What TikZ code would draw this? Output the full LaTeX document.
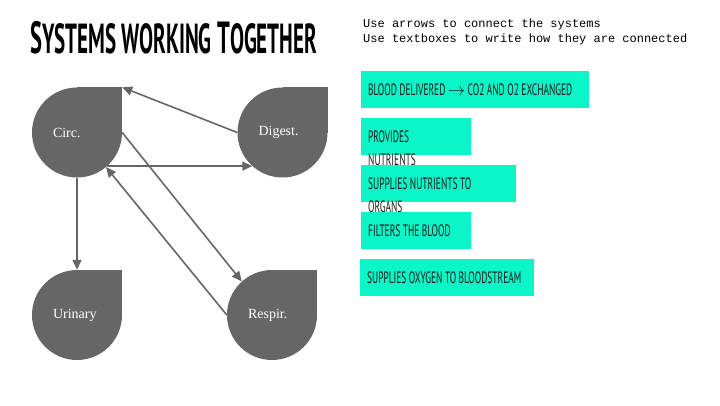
\documentclass[tikz,border=0pt]{standalone}
\usepackage{fontspec}
\usepackage{tikz}
\usetikzlibrary{arrows.meta,positioning,backgrounds}
\setmainfont{Liberation Serif}
\setmonofont{Liberation Mono}
\newfontfamily\titlefont[FakeStretch=0.5]{PT Sans}
\newfontfamily\boxfont[FakeStretch=0.57]{PT Sans}
\definecolor{organgray}{HTML}{666666}
\definecolor{notegreen}{RGB}{10,245,200}
\definecolor{inkblack}{HTML}{1A1A1A}

\tikzset{
  organ/.style={circle, fill=organgray, minimum size=90pt, inner sep=0pt, text=white, text width=48pt, align=left, font=\fontsize{14}{14}\selectfont},
  link/.style={draw=organgray, line width=1.6pt, -{Triangle[length=10pt,width=9pt]}},
  notebox/.style={fill=notegreen, anchor=north west, minimum height=36.5pt, inner sep=0pt},
  notetext/.style={anchor=north west, inner xsep=7pt, inner ysep=13pt, align=left, text=inkblack, font=\boxfont\fontsize{16.5}{23}\selectfont}
}

\begin{document}
\begin{tikzpicture}[x=1pt,y=-1pt]
\useasboundingbox (0,0) rectangle (720,405);
\node[anchor=base west, inner sep=0pt, font=\titlefont\bfseries\fontsize{45}{45}\selectfont] (title) at (30,53)
  {S{\fontsize{42}{42}\selectfont YSTEMS WORKING} T{\fontsize{42}{42}\selectfont OGETHER}};
\node[anchor=north west, inner sep=0pt, align=left, font=\ttfamily\fontsize{12}{15}\selectfont] (task) at (363,19)
  {Use arrows to connect the systems\\Use textboxes to write how they are connected};

\node[organ] (circ) at (77,132.5) {Circ.};
\node[organ] (digest) at (282.5,132.5) {Digest.};
\node[organ] (urinary) at (77,315) {Urinary};
\node[organ] (respir) at (272,315) {Respir.};
\begin{scope}[on background layer]
\foreach \n in {circ,digest,urinary,respir}
  \fill[organgray] (\n.center) rectangle (\n.north -| \n.east);
\end{scope}

\draw[link] (digest.west) -- (circ.north -| circ.east);
\draw[link] (circ.-48) -- (digest.-132);
\draw[link] (respir.west) -- (circ.-50);
\draw[link] (circ.east) -- (respir.132);
\draw[link] (circ.south) -- (urinary.north);

\node[notebox, minimum width=228pt, label={[notetext]north west:BLOOD DELIVERED $\rightarrow$ CO2 AND O2 EXCHANGED}] (blood) at (361,71) {};
\node[notebox, minimum width=110pt, label={[notetext]north west:{PROVIDES\\NUTRIENTS}}] (provides) at (361,118) {};
\node[notebox, minimum width=155pt, label={[notetext]north west:{SUPPLIES NUTRIENTS TO\\ORGANS}}] (supplies) at (361,165) {};
\node[notebox, minimum width=110pt, label={[notetext]north west:FILTERS THE BLOOD}] (filters) at (361,212) {};
\node[notebox, minimum width=174pt, label={[notetext]north west:SUPPLIES OXYGEN TO BLOODSTREAM}] (oxygen) at (360,259) {};
\end{tikzpicture}
\end{document}
